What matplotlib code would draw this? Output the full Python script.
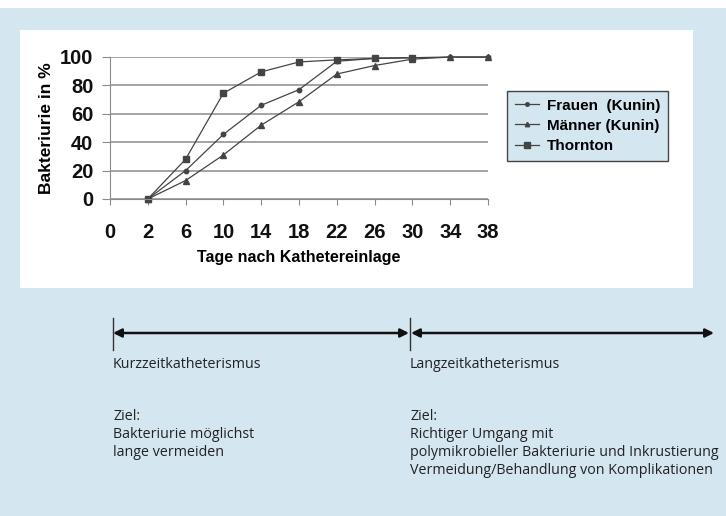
"""Bakteriurie nach Kathetereinlage mit Zeitachse Kurz-/Langzeitkatheterismus."""

import matplotlib

matplotlib.use("Agg")
import matplotlib.pyplot as plt
from matplotlib.patches import FancyArrowPatch, Rectangle
from matplotlib.lines import Line2D

W, H = 726, 516
BG = "#d4e6f0"

tage = ["0", "2", "6", "10", "14", "18", "22", "26", "30", "34", "38"]
frauen = [0, 20, 45.5, 66, 77, 97, 99, 99.5, 100, 100]
maenner = [0, 13, 31, 52, 68.5, 88, 94, 98.5, 100, 100]
thornton = [0, 28, 74.5, 89.5, 96.5, 98, 99, 99.5]

links_kopf = "Kurzzeitkatheterismus"
links_ziel = ["Ziel:", "Bakteriurie möglichst", "lange vermeiden"]
rechts_kopf = "Langzeitkatheterismus"
rechts_ziel = ["Ziel:", "Richtiger Umgang mit",
               "polymikrobieller Bakteriurie und Inkrustierung",
               "Vermeidung/Behandlung von Komplikationen"]


def px(x, y):
    return x / W, 1 - y / H


fig = plt.figure(figsize=(W / 100, H / 100), dpi=100, facecolor=BG)
fig.patches.append(Rectangle(px(0, 8), 1, 8 / H, transform=fig.transFigure,
                             facecolor="white", edgecolor="none", zorder=-5))
fig.patches.append(Rectangle(px(20, 288), 673 / W, 258 / H, transform=fig.transFigure,
                             facecolor="white", edgecolor="none", zorder=-5))

x0, y0 = px(110, 199)
x1, y1 = px(488, 57)
ax = fig.add_axes([x0, y0, x1 - x0, y1 - y0])
ax.set_facecolor("none")

pos = list(range(1, 11))
linie = dict(color="#444444", lw=0.9, clip_on=False)
ax.plot(pos[:len(frauen)], frauen, marker="o", ms=3.2, label="Frauen  (Kunin)", **linie)
ax.plot(pos[:len(maenner)], maenner, marker="^", ms=4, label="Männer (Kunin)", **linie)
ax.plot(pos[:len(thornton)], thornton, marker="s", ms=5, label="Thornton", **linie)

ax.set_xlim(0, 10)
ax.set_ylim(0, 100)
ax.set_xticks(range(11))
ax.set_xticklabels(tage)
ax.set_yticks(range(0, 101, 20))
ax.yaxis.grid(True, color="#8a8a8a", lw=1.1)
ax.set_axisbelow(True)
for s in ["top", "right"]:
    ax.spines[s].set_visible(False)
for s in ["left", "bottom"]:
    ax.spines[s].set_color("#8a8a8a")
ax.tick_params(axis="both", colors="#8a8a8a", width=0.8,
               labelcolor="#111111", labelsize=14.5)
ax.tick_params(axis="x", length=4, pad=13)
ax.tick_params(axis="y", length=6, pad=6)
for t in ax.get_xticklabels() + ax.get_yticklabels():
    t.set_fontweight("bold")
    t.set_family("Liberation Sans")
ax.set_xlabel("Tage nach Kathetereinlage", fontsize=11.5, fontweight="bold",
              family="Liberation Sans", labelpad=6)
ax.set_ylabel("Bakteriurie in %", fontsize=12.5, fontweight="bold",
              family="Liberation Sans", labelpad=4)

leg = ax.legend(loc="upper left", bbox_to_anchor=(px(507, 91)), bbox_transform=fig.transFigure,
                borderaxespad=0, frameon=True, fancybox=False, facecolor=BG,
                edgecolor="#444444", prop={"family": "Liberation Sans", "weight": "bold", "size": 11},
                handlelength=1.6, borderpad=0.5, labelspacing=0.4, handletextpad=0.5,
                markerscale=0.8)
leg.get_frame().set_linewidth(1.0)
leg.get_frame().set_alpha(1)

# Zeitachse unten
pfeil = dict(arrowstyle="<|-|>,head_length=5,head_width=2.5", color="#111111",
             lw=1.8, transform=fig.transFigure, shrinkA=0, shrinkB=0)
fig.add_artist(FancyArrowPatch(px(113, 333), px(409, 333), **pfeil))
fig.add_artist(FancyArrowPatch(px(411, 333), px(714, 333), **pfeil))
for xb in (113, 410):
    fig.add_artist(Line2D([xb / W, xb / W], [1 - 318 / H, 1 - 350 / H],
                          transform=fig.transFigure, color="#333333", lw=1.0))

schrift = dict(family="Open Sans", fontsize=10.3, color="#222222", va="center", ha="left")
fig.text(*px(113, 364), links_kopf, **schrift)
fig.text(*px(410, 364), rechts_kopf, **schrift)
for i, zeile in enumerate(links_ziel):
    fig.text(*px(113, 416 + 18 * i), zeile, **schrift)
for i, zeile in enumerate(rechts_ziel):
    fig.text(*px(410, 416 + 18 * i), zeile, **schrift)

fig.savefig("out.png", dpi=100, facecolor=BG)
